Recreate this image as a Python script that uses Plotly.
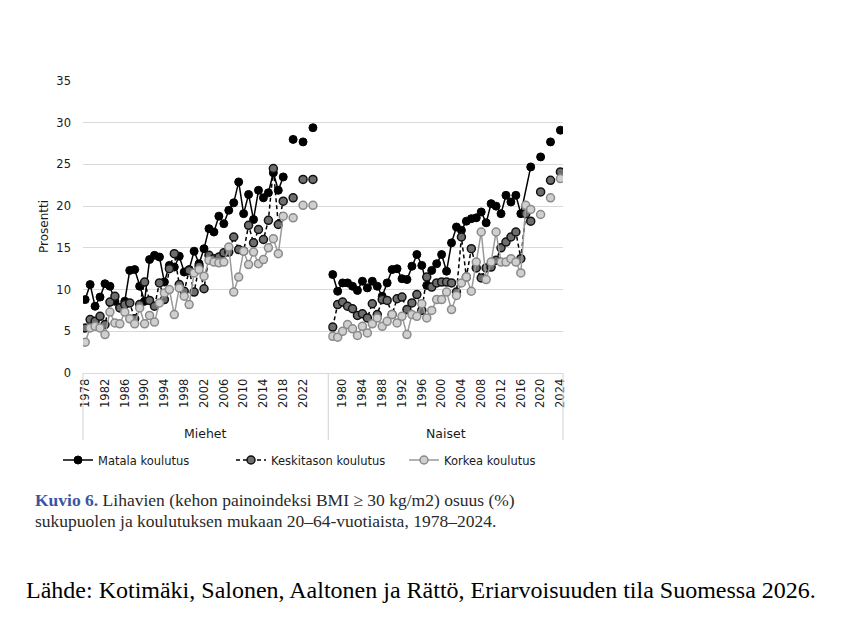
import plotly.graph_objects as go

# ---------------- data ----------------
years_a = list(range(1978, 2019))       # annual survey years (connected lines)
years_b = [2020, 2022, 2024]            # later survey years (separate points)

men_low = [8.8, 10.6, 8.0, 9.1, 10.7, 10.4, 8.6, 7.9, 8.6, 12.3, 12.4, 10.4, 8.6, 13.6, 14.1,
           13.9, 10.9, 12.9, 12.7, 14.0, 12.1, 12.4, 14.6, 13.1, 14.9, 17.3, 16.9, 18.8, 17.9,
           19.5, 20.4, 22.9, 19.1, 21.4, 18.4, 21.9, 21.0, 21.6, 24.0, 21.9, 23.5]
men_low_b = [28.0, 27.7, 29.4]

men_mid = [5.4, 6.4, 6.2, 6.8, 5.8, 8.5, 9.2, 7.8, 8.2, 8.4, 6.5, 8.2, 10.9, 8.7, 8.0,
           10.8, 8.8, 12.5, 14.3, 10.6, 9.8, 12.3, 9.7, 12.8, 10.1, 14.1, 13.7, 13.9, 14.4,
           14.5, 16.3, 14.8, 14.6, 17.7, 15.6, 17.2, 16.0, 18.3, 24.5, 17.8, 20.6]
men_mid_b = [21.0, 23.2, 23.2]

men_high = [3.7, 5.4, 5.6, 5.4, 4.6, 7.3, 6.0, 5.9, 7.3, 6.5, 5.9, 7.8, 5.9, 6.9, 6.1,
            8.4, 9.6, 10.0, 7.0, 10.2, 9.2, 8.2, 12.0, 12.4, 11.6, 13.5, 13.3, 13.2, 13.3,
            15.1, 9.7, 11.5, 14.6, 13.0, 14.5, 13.1, 13.6, 15.0, 16.1, 14.3, 18.8]
men_high_b = [18.6, 20.1, 20.1]

women_low = [11.8, 9.8, 10.8, 10.8, 10.4, 9.9, 11.0, 10.2, 11.0, 10.4, 9.2, 10.8, 12.4, 12.5,
             11.3, 11.2, 12.8, 14.2, 12.9, 10.5, 12.3, 13.1, 14.2, 12.2, 15.6, 17.5, 17.1, 18.2,
             18.5, 18.6, 19.3, 18.0, 20.3, 20.0, 19.1, 21.3, 20.5, 21.3, 19.1, None, 24.7]
women_low_b = [25.9, 27.7, 29.1]

women_mid = [5.5, 8.2, 8.5, 8.0, 7.7, 6.9, 7.1, 6.6, 8.3, 7.0, 8.8, 8.7, 7.0, 8.9, 9.1,
             7.6, 8.4, 9.4, 7.5, 11.5, 10.3, 10.8, 10.9, 10.9, 10.8, 9.7, 16.3, 11.5, 14.9,
             12.6, 11.4, 12.6, 12.7, 13.5, 15.0, 15.7, 16.3, 16.9, 13.7, 19.1, 18.2]
women_mid_b = [21.7, 23.1, 24.1]

women_high = [4.4, 4.3, 5.0, 5.8, 5.3, 4.5, 5.6, 4.8, 5.9, 6.6, 5.6, 6.2, 7.0, 6.0, 6.8,
              4.6, 7.0, 6.8, 8.3, 6.6, 7.5, 8.8, 8.8, 9.7, 7.6, 9.3, 10.8, 11.5, 9.8,
              13.3, 16.9, 11.2, 13.3, 16.9, 13.3, 13.3, 13.7, 13.3, 12.0, 20.1, 19.6]
women_high_b = [19.0, 21.0, 23.3]

series_names = ["Matala koulutus", "Keskitason koulutus", "Korkea koulutus"]
ticks_men = list(range(1978, 2023, 4))
ticks_women = list(range(1980, 2025, 4))
y_ticks = list(range(0, 36, 5))
group_labels = ["Miehet", "Naiset"]

# ---------------- styles ----------------
styles = [
    dict(line=dict(color="#000000", width=1.5),
         marker=dict(color="#000000", size=8, line=dict(color="#000000", width=1))),
    dict(line=dict(color="#000000", width=1.5, dash="4px,3px"),
         marker=dict(color="#6e6e6e", size=8, line=dict(color="#111111", width=1.5))),
    dict(line=dict(color="#9a9a9a", width=1.5),
         marker=dict(color="#cfcfcf", size=8, line=dict(color="#8a8a8a", width=1.5))),
]

fig = go.Figure()
panels = [
    ("x", [men_low, men_mid, men_high], [men_low_b, men_mid_b, men_high_b], True),
    ("x2", [women_low, women_mid, women_high], [women_low_b, women_mid_b, women_high_b], False),
]
for xref, vals_a, vals_b, show in panels:
    for k in range(3):
        st = styles[k]
        fig.add_trace(go.Scatter(
            x=years_a, y=vals_a[k], mode="lines+markers", name=series_names[k],
            legendgroup=series_names[k], showlegend=show, connectgaps=True,
            line=st["line"], marker=st["marker"], xaxis=xref, yaxis="y",
            hoverinfo="x+y"))
        fig.add_trace(go.Scatter(
            x=years_b, y=vals_b[k], mode="markers", name=series_names[k],
            legendgroup=series_names[k], showlegend=False,
            marker=st["marker"], xaxis=xref, yaxis="y", hoverinfo="x+y"))

# ---------------- layout ----------------
OFF = 8  # page body margin in the browser
W, H = 853 - OFF, 633 - OFF
L, R, T, B = 83 - OFF, 290, 81 - OFF, 260
PW, PH = W - L - R, H - T - B
split = (328.3 - 83) / PW

def px(xp):  # target page pixel -> paper x
    return (xp - OFF - L) / PW

def py(yp):  # target page pixel -> paper y
    return (H - B - (yp - OFF)) / PH

font_main = "DejaVu Sans"
tick_font = dict(family=font_main, size=11.5, color="#1a1a1a")

fig.update_layout(
    width=W, height=H,
    margin=dict(l=L, r=R, t=T, b=B),
    paper_bgcolor="white", plot_bgcolor="white",
    showlegend=True,
    legend=dict(orientation="h", x=px(58), y=py(460), xanchor="left", yanchor="middle",
                font=dict(family=font_main, size=11.5, color="#1a1a1a"),
                entrywidth=128, entrywidthmode="pixels", itemwidth=30,
                bgcolor="rgba(0,0,0,0)"),
    xaxis=dict(domain=[0, split], range=[1977.56, 2027.1], tickmode="array",
               tickvals=ticks_men, ticktext=[str(t) for t in ticks_men], tickangle=-90,
               tickfont=tick_font, showgrid=False, zeroline=False, showline=True,
               linecolor="#d9d9d9", linewidth=1.2, ticks="", anchor="y"),
    xaxis2=dict(domain=[split, 1], range=[1977.11, 2024.52], tickmode="array",
                tickvals=ticks_women, ticktext=[str(t) for t in ticks_women], tickangle=-90,
                tickfont=tick_font, showgrid=False, zeroline=False, showline=True,
                linecolor="#d9d9d9", linewidth=1.2, ticks="", anchor="y"),
    yaxis=dict(range=[0, 35], tickmode="array", tickvals=y_ticks,
               tickfont=dict(family=font_main, size=11.5, color="#1a1a1a"),
               showgrid=True, gridcolor="#d9d9d9", gridwidth=1.2, zeroline=False,
               showline=False, ticks="", ticklabelstandoff=11),
)

# panel divider lines below the axis
for xs in [0, split, 1]:
    fig.add_shape(type="line", xref="paper", yref="paper", x0=xs, x1=xs,
                  y0=0, y1=py(440), line=dict(color="#d9d9d9", width=1.2))

annotations = [
    dict(text="Prosentti", x=px(44), y=py(227), xref="paper", yref="paper", textangle=-90,
         showarrow=False, font=dict(family=font_main, size=12, color="#1a1a1a"),
         xanchor="center", yanchor="middle"),
    dict(text=group_labels[0], x=0.5, y=py(433), xref="x domain", yref="paper",
         showarrow=False, font=dict(family=font_main, size=12.5, color="#1a1a1a"),
         xanchor="center", yanchor="middle"),
    dict(text=group_labels[1], x=0.5, y=py(433), xref="x2 domain", yref="paper",
         showarrow=False, font=dict(family=font_main, size=12.5, color="#1a1a1a"),
         xanchor="center", yanchor="middle"),
    dict(text="<b><span style='color:#3a56a0'>Kuvio 6.</span></b> Lihavien (kehon painoindeksi BMI ≥ 30 kg/m2) osuus (%)",
         x=px(33), y=py(500), xref="paper", yref="paper", showarrow=False,
         font=dict(family="Liberation Serif", size=17.5, color="#2a2a2a"),
         xanchor="left", yanchor="middle", align="left"),
    dict(text="sukupuolen ja koulutuksen mukaan 20–64-vuotiaista, 1978–2024.",
         x=px(33), y=py(521), xref="paper", yref="paper", showarrow=False,
         font=dict(family="Liberation Serif", size=17.5, color="#2a2a2a"),
         xanchor="left", yanchor="middle", align="left"),
    dict(text="Lähde: Kotimäki, Salonen, Aaltonen ja Rättö, Eriarvoisuuden tila Suomessa 2026.",
         x=px(24), y=py(590), xref="paper", yref="paper", showarrow=False,
         font=dict(family="Liberation Serif", size=24, color="#000000"),
         xanchor="left", yanchor="middle", align="left"),
]
fig.update_layout(annotations=annotations)

fig.write_html("out.html")
